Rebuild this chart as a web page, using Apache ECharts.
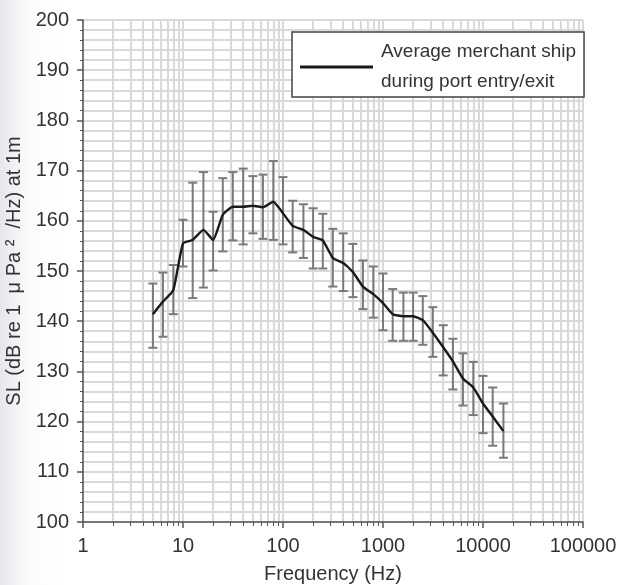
<!DOCTYPE html>
<html>
<head>
<meta charset="utf-8">
<script src="https://cdn.jsdelivr.net/npm/echarts@6/dist/echarts.min.js"></script>
<style>
  html, body { margin: 0; padding: 0; background: #fff; }
  #chart { width: 622px; height: 585px; }
</style>
</head>
<body>
<div id="chart"></div>
<script>
// One-third-octave band centre frequencies (Hz)
const frequencies = [5, 6.3, 8, 10, 12.5, 16, 20, 25, 31.5, 40, 50, 63, 80, 100, 125, 160, 200, 250,
  315, 400, 500, 630, 800, 1000, 1250, 1600, 2000, 2500, 3150, 4000, 5000, 6300, 8000, 10000, 12500, 16000];
// Mean source level per band (dB re 1 µPa²/Hz at 1 m)
const meanLevel = [141.4, 143.9, 146.2, 155.5, 156.2, 158.2, 156.2, 161.2, 162.8, 162.8, 163.0, 162.7,
  163.8, 161.5, 159.0, 158.2, 156.8, 156.1, 152.6, 151.6, 149.8, 146.9, 145.4, 143.6, 141.4, 141.0,
  141.0, 140.2, 137.7, 134.8, 132.0, 128.6, 126.8, 123.6, 121.0, 118.1];
// Upper and lower ends of the spread bars
const upperLevel = [147.5, 149.7, 151.2, 160.2, 167.6, 169.7, 161.8, 168.5, 169.7, 170.4, 168.9, 169.2,
  171.9, 168.7, 164.0, 163.3, 162.5, 161.4, 158.4, 157.5, 155.4, 152.1, 150.9, 149.5, 146.4, 145.7,
  145.7, 145.0, 142.8, 139.2, 136.5, 133.6, 131.9, 129.1, 126.8, 123.6];
const lowerLevel = [134.7, 136.9, 141.4, 150.9, 144.6, 146.7, 150.1, 153.9, 156.1, 155.3, 157.5, 156.4,
  156.2, 155.3, 153.7, 152.6, 150.5, 150.5, 146.9, 146.0, 144.8, 142.4, 140.7, 138.2, 136.1, 136.1,
  136.1, 135.3, 132.9, 129.2, 126.4, 123.2, 121.3, 117.7, 115.2, 112.8];

const seriesName = 'Average merchant ship\nduring port entry/exit';
const xTitle = 'Frequency (Hz)';
const yTitle = 'SL (dB re 1  \u03bc Pa \u00b2  /Hz) at 1m';

const FONT = '"Liberation Sans", Arial, Helvetica, sans-serif';
const TEXT = '#333';
const GRID = '#d9d9dc';
const AXIS = '#555';

const chart = echarts.init(document.getElementById('chart'), null, { renderer: 'canvas' });

const lineData = frequencies.map((f, i) => [f, meanLevel[i]]);
const barData = frequencies.map((f, i) => [f, lowerLevel[i], upperLevel[i]]);

chart.setOption({
  animation: false,
  backgroundColor: {
    type: 'linear', x: 0, y: 0, x2: 1, y2: 0,
    colorStops: [
      { offset: 0, color: '#e6e7ea' },
      { offset: 0.045, color: '#fbfbfb' },
      { offset: 0.1, color: '#ffffff' },
      { offset: 1, color: '#ffffff' }
    ]
  },
  textStyle: { fontFamily: FONT },
  grid: { left: 83, top: 20, right: 39, bottom: 63, containLabel: false, outerBoundsMode: 'none' },
  legend: {
    data: [{ name: seriesName, icon: 'rect' }],
    left: 292,
    top: 32,
    orient: 'vertical',
    itemWidth: 73,
    itemHeight: 3,
    itemGap: 0,
    padding: [5, 8, 0, 8],
    backgroundColor: '#fff',
    borderColor: '#444',
    borderWidth: 1.5,
    selectedMode: false,
    textStyle: {
      fontFamily: FONT, fontSize: 19, color: TEXT, lineHeight: 30, padding: [0, 0, 0, 3]
    }
  },
  xAxis: {
    type: 'log',
    logBase: 10,
    min: 1,
    max: 100000,
    name: xTitle,
    nameLocation: 'middle',
    nameGap: 42,
    nameTextStyle: { fontFamily: FONT, fontSize: 20, color: TEXT },
    axisLine: { lineStyle: { color: AXIS, width: 1.5 } },
    axisTick: { show: true, inside: false, length: 6, lineStyle: { color: AXIS, width: 1.5 } },
    minorTick: { show: true, splitNumber: 9, length: 4, lineStyle: { color: AXIS, width: 1 } },
    axisLabel: {
      fontFamily: FONT, fontSize: 20, color: TEXT, margin: 14,
      formatter: function (v) { return String(Math.round(v)); }
    },
    splitLine: { show: true, lineStyle: { color: GRID, width: 2 } },
    minorSplitLine: { show: true, lineStyle: { color: GRID, width: 2 } }
  },
  yAxis: {
    type: 'value',
    min: 100,
    max: 200,
    interval: 10,
    name: yTitle,
    nameLocation: 'middle',
    nameGap: 51,
    nameTextStyle: { fontFamily: FONT, fontSize: 20, color: TEXT },
    axisLine: { show: true, lineStyle: { color: AXIS, width: 1.5 } },
    axisTick: { show: true, inside: false, length: 6, lineStyle: { color: AXIS, width: 1.5 } },
    minorTick: { show: true, splitNumber: 5, length: 3, lineStyle: { color: AXIS, width: 1 } },
    axisLabel: { fontFamily: FONT, fontSize: 20, color: TEXT, margin: 14 },
    splitLine: { show: true, lineStyle: { color: GRID, width: 2 } },
    minorSplitLine: { show: true, lineStyle: { color: GRID, width: 2 } }
  },
  series: [
    {
      name: 'spread',
      type: 'custom',
      silent: true,
      z: 3,
      data: barData,
      encode: { x: 0, y: [1, 2] },
      renderItem: function (params, api) {
        const f = api.value(0);
        const lo = api.coord([f, api.value(1)]);
        const hi = api.coord([f, api.value(2)]);
        const cap = 4.5;
        const style = { stroke: '#7a7a7a', lineWidth: 2, fill: null };
        return {
          type: 'group',
          children: [
            { type: 'line', shape: { x1: lo[0], y1: lo[1], x2: hi[0], y2: hi[1] }, style: style },
            { type: 'line', shape: { x1: hi[0] - cap, y1: hi[1], x2: hi[0] + cap, y2: hi[1] }, style: style },
            { type: 'line', shape: { x1: lo[0] - cap, y1: lo[1], x2: lo[0] + cap, y2: lo[1] }, style: style }
          ]
        };
      }
    },
    {
      name: seriesName,
      type: 'line',
      z: 5,
      data: lineData,
      showSymbol: false,
      symbol: 'none',
      smooth: 0.15,
      color: '#1a1a1a',
      lineStyle: { color: '#1a1a1a', width: 2.4 }
    }
  ]
});
</script>
</body>
</html>
